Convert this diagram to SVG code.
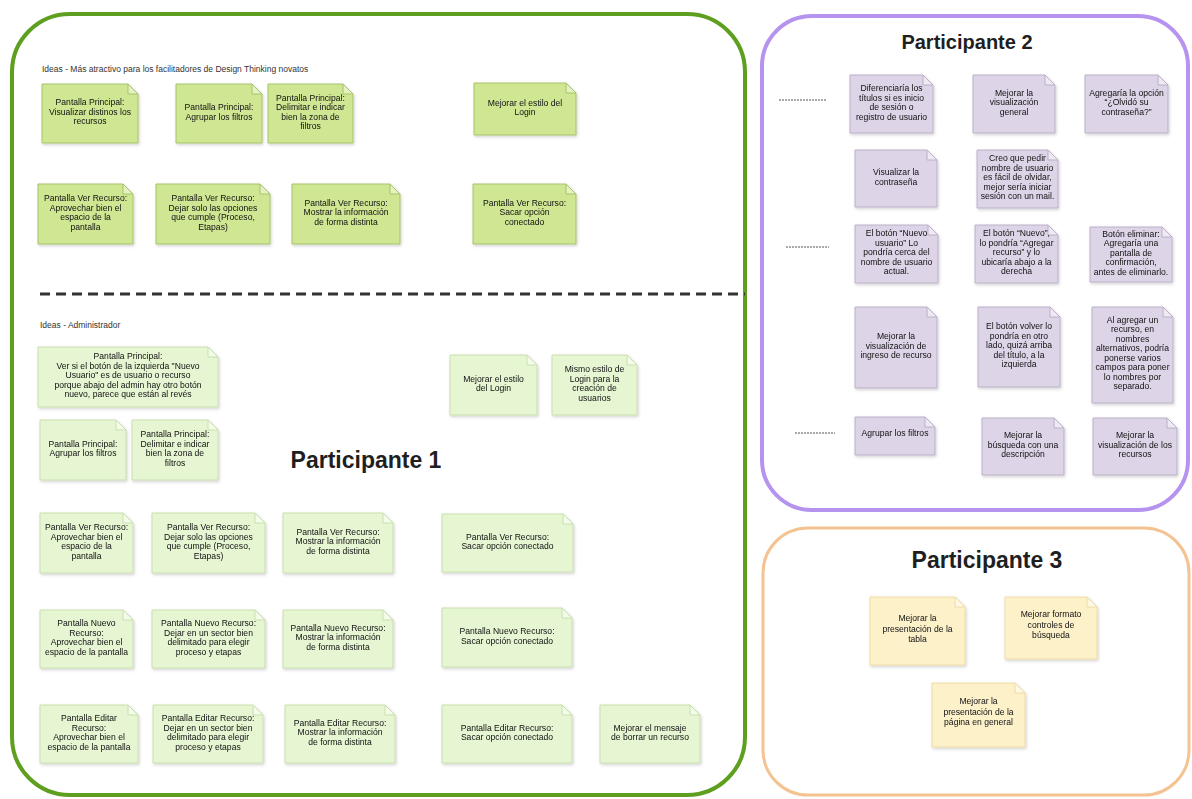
<svg xmlns="http://www.w3.org/2000/svg" width="1192" height="799" viewBox="0 0 1192 799">
  <style>
    .frame { fill: none; }
    .p1 { stroke: #5e9f1f; stroke-width: 4; }
    .p2 { stroke: #b693ee; stroke-width: 4; }
    .p3 { stroke: #f4c391; stroke-width: 3; }
    .title { font-family: "Liberation Sans", Arial, sans-serif; font-size: 23px; font-weight: bold; fill: #1f1f1f; text-anchor: middle; }
    .title.small { font-size: 20px; }
    .hdr { font-family: "Liberation Sans", Arial, sans-serif; font-size: 8.5px; fill: #333; }
    .t { font-family: "Liberation Sans", Arial, sans-serif; font-size: 8.6px; fill: #111; text-anchor: middle; }
    .g1 .body { fill: #cfe693; stroke: #a7c46a; stroke-width: 1; }
    .g1 .fold { fill: #e4f1c2; stroke: #a7c46a; stroke-width: 1; }
    .g2 .body { fill: #e6f6d2; stroke: #c9dfae; stroke-width: 1; }
    .g2 .fold { fill: #f3fbe9; stroke: #c9dfae; stroke-width: 1; }
    .pu .body { fill: #ddd4e7; stroke: #bbb0c9; stroke-width: 1; }
    .pu .fold { fill: #eee9f3; stroke: #bbb0c9; stroke-width: 1; }
    .ye .body { fill: #fdf1ca; stroke: #eedca6; stroke-width: 1; }
    .ye .fold { fill: #fff8e4; stroke: #eedca6; stroke-width: 1; }
    .note { filter: url(#shadow); }
    .sep { stroke: #333; stroke-width: 3; stroke-dasharray: 10 6; fill: none; }
    .mark { stroke: #555; stroke-width: 1; stroke-dasharray: 2 1; fill: none; }
  </style>
  <defs>
    <filter id="shadow" x="-10%" y="-10%" width="130%" height="130%">
      <feDropShadow dx="1" dy="1.5" stdDeviation="1.5" flood-color="#000" flood-opacity="0.18"/>
    </filter>
  </defs>

  <rect width="1192" height="799" fill="#ffffff"/>

  <!-- participant frames -->
  <g id="frame-participante-1">
    <rect class="frame p1" x="12" y="14" width="733" height="781" rx="58" ry="58"/>
    <text class="title" x="366" y="468">Participante 1</text>
  </g>
  <g id="frame-participante-2">
    <rect class="frame p2" x="762" y="16" width="426" height="494" rx="50" ry="50"/>
    <text class="title small" x="967" y="49">Participante 2</text>
  </g>
  <g id="frame-participante-3">
    <rect class="frame p3" x="763" y="528" width="426" height="267" rx="45" ry="45"/>
    <text class="title" x="987" y="568">Participante 3</text>
  </g>

  <!-- section headers and divider -->
  <text id="hdr-novatos" class="hdr" x="42" y="72">Ideas - Más atractivo para los facilitadores de Design Thinking novatos</text>
  <line id="divider" class="sep" x1="40" y1="294" x2="745" y2="294"/>
  <text id="hdr-admin" class="hdr" x="40" y="328">Ideas - Administrador</text>

  <!-- connectors: short row markers in Participante 2 -->
  <g id="connectors">
    <line class="mark" x1="779" y1="100" x2="826" y2="100"/>
    <line class="mark" x1="786" y1="247" x2="829" y2="247"/>
    <line class="mark" x1="795" y1="433" x2="835" y2="433"/>
  </g>

  <!-- ===== Participante 1: ideas for novice facilitators ===== -->
  <g id="n1" class="note g1">
    <path class="body" d="M42 84h86l10 10v49h-96z"/><path class="fold" d="M128 84v10h10z"/>
    <text class="t" x="90" y="105"><tspan x="90">Pantalla Principal:</tspan><tspan x="90" dy="9.5">Visualizar distinos los</tspan><tspan x="90" dy="9.5">recursos</tspan></text>
  </g>
  <g id="n2" class="note g1">
    <path class="body" d="M176 84h76l10 10v49h-86z"/><path class="fold" d="M252 84v10h10z"/>
    <text class="t" x="219" y="110"><tspan x="219">Pantalla Principal:</tspan><tspan x="219" dy="9.5">Agrupar los filtros</tspan></text>
  </g>
  <g id="n3" class="note g1">
    <path class="body" d="M268 84h75l10 10v49h-85z"/><path class="fold" d="M343 84v10h10z"/>
    <text class="t" x="310.5" y="100.5"><tspan x="310.5">Pantalla Principal:</tspan><tspan x="310.5" dy="9.5">Delimitar e indicar</tspan><tspan x="310.5" dy="9.5">bien la zona de</tspan><tspan x="310.5" dy="9.5">filtros</tspan></text>
  </g>
  <g id="n4" class="note g1">
    <path class="body" d="M474 83h92l10 10v42h-102z"/><path class="fold" d="M566 83v10h10z"/>
    <text class="t" x="525" y="105.5"><tspan x="525">Mejorar el estilo del</tspan><tspan x="525" dy="9.5">Login</tspan></text>
  </g>
  <g id="n5" class="note g1">
    <path class="body" d="M38 184h85l10 10v50h-95z"/><path class="fold" d="M123 184v10h10z"/>
    <text class="t" x="85.5" y="201"><tspan x="85.5">Pantalla Ver Recurso:</tspan><tspan x="85.5" dy="9.5">Aprovechar bien el</tspan><tspan x="85.5" dy="9.5">espacio de la</tspan><tspan x="85.5" dy="9.5">pantalla</tspan></text>
  </g>
  <g id="n6" class="note g1">
    <path class="body" d="M156 184h104l10 10v50h-114z"/><path class="fold" d="M260 184v10h10z"/>
    <text class="t" x="213" y="201"><tspan x="213">Pantalla Ver Recurso:</tspan><tspan x="213" dy="9.5">Dejar solo las opciones</tspan><tspan x="213" dy="9.5">que cumple (Proceso,</tspan><tspan x="213" dy="9.5">Etapas)</tspan></text>
  </g>
  <g id="n7" class="note g1">
    <path class="body" d="M292 184h98l10 10v50h-108z"/><path class="fold" d="M390 184v10h10z"/>
    <text class="t" x="346" y="205.5"><tspan x="346">Pantalla Ver Recurso:</tspan><tspan x="346" dy="9.5">Mostrar la información</tspan><tspan x="346" dy="9.5">de forma distinta</tspan></text>
  </g>
  <g id="n8" class="note g1">
    <path class="body" d="M473 184h93l10 10v50h-103z"/><path class="fold" d="M566 184v10h10z"/>
    <text class="t" x="524.5" y="205.5"><tspan x="524.5">Pantalla Ver Recurso:</tspan><tspan x="524.5" dy="9.5">Sacar opción</tspan><tspan x="524.5" dy="9.5">conectado</tspan></text>
  </g>

  <!-- ===== Participante 1: administrator ideas ===== -->
  <g id="n9" class="note g2">
    <path class="body" d="M38 347h170l10 10v50h-180z"/><path class="fold" d="M208 347v10h10z"/>
    <text class="t" x="128" y="359"><tspan x="128">Pantalla Principal:</tspan><tspan x="128" dy="9.5">Ver si el botón de la izquierda "Nuevo</tspan><tspan x="128" dy="9.5">Usuario" es de usuario o recurso</tspan><tspan x="128" dy="9.5">porque abajo del admin hay otro botón</tspan><tspan x="128" dy="9.5">nuevo, parece que están al revés</tspan></text>
  </g>
  <g id="n10" class="note g2">
    <path class="body" d="M40 420h76l10 10v50h-86z"/><path class="fold" d="M116 420v10h10z"/>
    <text class="t" x="83" y="446.5"><tspan x="83">Pantalla Principal:</tspan><tspan x="83" dy="9.5">Agrupar los filtros</tspan></text>
  </g>
  <g id="n11" class="note g2">
    <path class="body" d="M132 420h76l10 10v50h-86z"/><path class="fold" d="M208 420v10h10z"/>
    <text class="t" x="175" y="437"><tspan x="175">Pantalla Principal:</tspan><tspan x="175" dy="9.5">Delimitar e indicar</tspan><tspan x="175" dy="9.5">bien la zona de</tspan><tspan x="175" dy="9.5">filtros</tspan></text>
  </g>
  <g id="n12" class="note g2">
    <path class="body" d="M450 355h77l10 10v50h-87z"/><path class="fold" d="M527 355v10h10z"/>
    <text class="t" x="493.5" y="381.5"><tspan x="493.5">Mejorar el estilo</tspan><tspan x="493.5" dy="9.5">del Login</tspan></text>
  </g>
  <g id="n13" class="note g2">
    <path class="body" d="M552 355h75l10 10v50h-85z"/><path class="fold" d="M627 355v10h10z"/>
    <text class="t" x="594.5" y="372"><tspan x="594.5">Mismo estilo de</tspan><tspan x="594.5" dy="9.5">Login para la</tspan><tspan x="594.5" dy="9.5">creación de</tspan><tspan x="594.5" dy="9.5">usuarios</tspan></text>
  </g>
  <g id="n14" class="note g2">
    <path class="body" d="M40 513h83l10 10v50h-93z"/><path class="fold" d="M123 513v10h10z"/>
    <text class="t" x="86.5" y="530"><tspan x="86.5">Pantalla Ver Recurso:</tspan><tspan x="86.5" dy="9.5">Aprovechar bien el</tspan><tspan x="86.5" dy="9.5">espacio de la</tspan><tspan x="86.5" dy="9.5">pantalla</tspan></text>
  </g>
  <g id="n15" class="note g2">
    <path class="body" d="M152 513h103l10 10v50h-113z"/><path class="fold" d="M255 513v10h10z"/>
    <text class="t" x="208.5" y="530"><tspan x="208.5">Pantalla Ver Recurso:</tspan><tspan x="208.5" dy="9.5">Dejar solo las opciones</tspan><tspan x="208.5" dy="9.5">que cumple (Proceso,</tspan><tspan x="208.5" dy="9.5">Etapas)</tspan></text>
  </g>
  <g id="n16" class="note g2">
    <path class="body" d="M283 513h100l10 10v50h-110z"/><path class="fold" d="M383 513v10h10z"/>
    <text class="t" x="338" y="534.5"><tspan x="338">Pantalla Ver Recurso:</tspan><tspan x="338" dy="9.5">Mostrar la información</tspan><tspan x="338" dy="9.5">de forma distinta</tspan></text>
  </g>
  <g id="n17" class="note g2">
    <path class="body" d="M40 610h83l10 10v48h-93z"/><path class="fold" d="M123 610v10h10z"/>
    <text class="t" x="86.5" y="626"><tspan x="86.5">Pantalla Nuevo</tspan><tspan x="86.5" dy="9.5">Recurso:</tspan><tspan x="86.5" dy="9.5">Aprovechar bien el</tspan><tspan x="86.5" dy="9.5">espacio de la pantalla</tspan></text>
  </g>
  <g id="n18" class="note g2">
    <path class="body" d="M152 610h103l10 10v48h-113z"/><path class="fold" d="M255 610v10h10z"/>
    <text class="t" x="208.5" y="626"><tspan x="208.5">Pantalla Nuevo Recurso:</tspan><tspan x="208.5" dy="9.5">Dejar en un sector bien</tspan><tspan x="208.5" dy="9.5">delimitado para elegir</tspan><tspan x="208.5" dy="9.5">proceso y etapas</tspan></text>
  </g>
  <g id="n19" class="note g2">
    <path class="body" d="M283 610h100l10 10v48h-110z"/><path class="fold" d="M383 610v10h10z"/>
    <text class="t" x="338" y="630.5"><tspan x="338">Pantalla Nuevo Recurso:</tspan><tspan x="338" dy="9.5">Mostrar la información</tspan><tspan x="338" dy="9.5">de forma distinta</tspan></text>
  </g>
  <g id="n20" class="note g2">
    <path class="body" d="M442 514h121l10 10v48h-131z"/><path class="fold" d="M563 514v10h10z"/>
    <text class="t" x="507.5" y="539.5"><tspan x="507.5">Pantalla Ver Recurso:</tspan><tspan x="507.5" dy="9.5">Sacar opción conectado</tspan></text>
  </g>
  <g id="n21" class="note g2">
    <path class="body" d="M442 608h120l10 10v49h-130z"/><path class="fold" d="M562 608v10h10z"/>
    <text class="t" x="507" y="634"><tspan x="507">Pantalla Nuevo Recurso:</tspan><tspan x="507" dy="9.5">Sacar opción conectado</tspan></text>
  </g>
  <g id="n22" class="note g2">
    <path class="body" d="M40 705h88l10 10v48h-98z"/><path class="fold" d="M128 705v10h10z"/>
    <text class="t" x="89" y="721"><tspan x="89">Pantalla Editar</tspan><tspan x="89" dy="9.5">Recurso:</tspan><tspan x="89" dy="9.5">Aprovechar bien el</tspan><tspan x="89" dy="9.5">espacio de la pantalla</tspan></text>
  </g>
  <g id="n23" class="note g2">
    <path class="body" d="M153 705h100l10 10v48h-110z"/><path class="fold" d="M253 705v10h10z"/>
    <text class="t" x="208" y="721"><tspan x="208">Pantalla Editar Recurso:</tspan><tspan x="208" dy="9.5">Dejar en un sector bien</tspan><tspan x="208" dy="9.5">delimitado para elegir</tspan><tspan x="208" dy="9.5">proceso y etapas</tspan></text>
  </g>
  <g id="n24" class="note g2">
    <path class="body" d="M285 705h100l10 10v48h-110z"/><path class="fold" d="M385 705v10h10z"/>
    <text class="t" x="340" y="725.5"><tspan x="340">Pantalla Editar Recurso:</tspan><tspan x="340" dy="9.5">Mostrar la información</tspan><tspan x="340" dy="9.5">de forma distinta</tspan></text>
  </g>
  <g id="n25" class="note g2">
    <path class="body" d="M442 705h120l10 10v48h-130z"/><path class="fold" d="M562 705v10h10z"/>
    <text class="t" x="507" y="730.5"><tspan x="507">Pantalla Editar Recurso:</tspan><tspan x="507" dy="9.5">Sacar opción conectado</tspan></text>
  </g>
  <g id="n26" class="note g2">
    <path class="body" d="M600 705h90l10 10v48h-100z"/><path class="fold" d="M690 705v10h10z"/>
    <text class="t" x="650" y="730.5"><tspan x="650">Mejorar el mensaje</tspan><tspan x="650" dy="9.5">de borrar un recurso</tspan></text>
  </g>

  <!-- ===== Participante 2 ===== -->
  <g id="p1" class="note pu">
    <path class="body" d="M850 75h73l10 10v48h-83z"/><path class="fold" d="M923 75v10h10z"/>
    <text class="t" x="891.5" y="91"><tspan x="891.5">Diferenciaría los</tspan><tspan x="891.5" dy="9.5">títulos si es inicio</tspan><tspan x="891.5" dy="9.5">de sesión o</tspan><tspan x="891.5" dy="9.5">registro de usuario</tspan></text>
  </g>
  <g id="p2" class="note pu">
    <path class="body" d="M973 75h72l10 10v48h-82z"/><path class="fold" d="M1045 75v10h10z"/>
    <text class="t" x="1014" y="95.5"><tspan x="1014">Mejorar la</tspan><tspan x="1014" dy="9.5">visualización</tspan><tspan x="1014" dy="9.5">general</tspan></text>
  </g>
  <g id="p3" class="note pu">
    <path class="body" d="M1085 75h73l10 10v48h-83z"/><path class="fold" d="M1158 75v10h10z"/>
    <text class="t" x="1126.5" y="95.5"><tspan x="1126.5">Agregaría la opción</tspan><tspan x="1126.5" dy="9.5">“¿Olvidó su</tspan><tspan x="1126.5" dy="9.5">contraseña?”</tspan></text>
  </g>
  <g id="p4" class="note pu">
    <path class="body" d="M855 150h72l10 10v47h-82z"/><path class="fold" d="M927 150v10h10z"/>
    <text class="t" x="896" y="175"><tspan x="896">Visualizar la</tspan><tspan x="896" dy="9.5">contraseña</tspan></text>
  </g>
  <g id="p5" class="note pu">
    <path class="body" d="M977 150h71l10 10v48h-81z"/><path class="fold" d="M1048 150v10h10z"/>
    <text class="t" x="1017.5" y="161"><tspan x="1017.5">Creo que pedir</tspan><tspan x="1017.5" dy="9.5">nombre de usuario</tspan><tspan x="1017.5" dy="9.5">es fácil de olvidar,</tspan><tspan x="1017.5" dy="9.5">mejor sería iniciar</tspan><tspan x="1017.5" dy="9.5">sesión con un mail.</tspan></text>
  </g>
  <g id="p6" class="note pu">
    <path class="body" d="M855 225h73l10 10v48h-83z"/><path class="fold" d="M928 225v10h10z"/>
    <text class="t" x="896.5" y="236"><tspan x="896.5">El botón “Nuevo</tspan><tspan x="896.5" dy="9.5">usuario” Lo</tspan><tspan x="896.5" dy="9.5">pondría cerca del</tspan><tspan x="896.5" dy="9.5">nombre de usuario</tspan><tspan x="896.5" dy="9.5">actual.</tspan></text>
  </g>
  <g id="p7" class="note pu">
    <path class="body" d="M975 225h73l10 10v48h-83z"/><path class="fold" d="M1048 225v10h10z"/>
    <text class="t" x="1016.5" y="236"><tspan x="1016.5">El botón “Nuevo”,</tspan><tspan x="1016.5" dy="9.5">lo pondría “Agregar</tspan><tspan x="1016.5" dy="9.5">recurso” y lo</tspan><tspan x="1016.5" dy="9.5">ubicaría abajo a la</tspan><tspan x="1016.5" dy="9.5">derecha</tspan></text>
  </g>
  <g id="p8" class="note pu">
    <path class="body" d="M1090 227h72l10 10v45h-82z"/><path class="fold" d="M1162 227v10h10z"/>
    <text class="t" x="1131" y="236.5"><tspan x="1131">Botón eliminar:</tspan><tspan x="1131" dy="9.5">Agregaría una</tspan><tspan x="1131" dy="9.5">pantalla de</tspan><tspan x="1131" dy="9.5">confirmación,</tspan><tspan x="1131" dy="9.5">antes de eliminarlo.</tspan></text>
  </g>
  <g id="p9" class="note pu">
    <path class="body" d="M855 307h72l10 10v71h-82z"/><path class="fold" d="M927 307v10h10z"/>
    <text class="t" x="896" y="339"><tspan x="896">Mejorar la</tspan><tspan x="896" dy="9.5">visualización de</tspan><tspan x="896" dy="9.5">ingreso de recurso</tspan></text>
  </g>
  <g id="p10" class="note pu">
    <path class="body" d="M978 307h72l10 10v70h-82z"/><path class="fold" d="M1050 307v10h10z"/>
    <text class="t" x="1019" y="329"><tspan x="1019">El botón volver lo</tspan><tspan x="1019" dy="9.5">pondría en otro</tspan><tspan x="1019" dy="9.5">lado, quizá arriba</tspan><tspan x="1019" dy="9.5">del título, a la</tspan><tspan x="1019" dy="9.5">izquierda</tspan></text>
  </g>
  <g id="p11" class="note pu">
    <path class="body" d="M1092 307h71l10 10v86h-81z"/><path class="fold" d="M1163 307v10h10z"/>
    <text class="t" x="1132.5" y="322.5"><tspan x="1132.5">Al agregar un</tspan><tspan x="1132.5" dy="9.5">recurso, en</tspan><tspan x="1132.5" dy="9.5">nombres</tspan><tspan x="1132.5" dy="9.5">alternativos, podría</tspan><tspan x="1132.5" dy="9.5">ponerse varios</tspan><tspan x="1132.5" dy="9.5">campos para poner</tspan><tspan x="1132.5" dy="9.5">lo nombres por</tspan><tspan x="1132.5" dy="9.5">separado.</tspan></text>
  </g>
  <g id="p12" class="note pu">
    <path class="body" d="M855 417h70l10 10v28h-80z"/><path class="fold" d="M925 417v10h10z"/>
    <text class="t" x="895" y="436"><tspan x="895">Agrupar los filtros</tspan></text>
  </g>
  <g id="p13" class="note pu">
    <path class="body" d="M982 418h72l10 10v47h-82z"/><path class="fold" d="M1054 418v10h10z"/>
    <text class="t" x="1023" y="438"><tspan x="1023">Mejorar la</tspan><tspan x="1023" dy="9.5">búsqueda con una</tspan><tspan x="1023" dy="9.5">descripción</tspan></text>
  </g>
  <g id="p14" class="note pu">
    <path class="body" d="M1093 418h74l10 10v47h-84z"/><path class="fold" d="M1167 418v10h10z"/>
    <text class="t" x="1135" y="438"><tspan x="1135">Mejorar la</tspan><tspan x="1135" dy="9.5">visualización de los</tspan><tspan x="1135" dy="9.5">recursos</tspan></text>
  </g>

  <!-- ===== Participante 3 ===== -->
  <g id="q1" class="note ye">
    <path class="body" d="M870 597h85l10 10v58h-95z"/><path class="fold" d="M955 597v10h10z"/>
    <text class="t" x="917.5" y="621"><tspan x="917.5">Mejorar la</tspan><tspan x="917.5" dy="10.5">presentación de la</tspan><tspan x="917.5" dy="10.5">tabla</tspan></text>
  </g>
  <g id="q2" class="note ye">
    <path class="body" d="M1005 597h82l10 10v52h-92z"/><path class="fold" d="M1087 597v10h10z"/>
    <text class="t" x="1051" y="617"><tspan x="1051">Mejorar formato</tspan><tspan x="1051" dy="10.5">controles de</tspan><tspan x="1051" dy="10.5">búsqueda</tspan></text>
  </g>
  <g id="q3" class="note ye">
    <path class="body" d="M932 683h83l10 10v54h-93z"/><path class="fold" d="M1015 683v10h10z"/>
    <text class="t" x="978.5" y="704"><tspan x="978.5">Mejorar la</tspan><tspan x="978.5" dy="10.5">presentación de la</tspan><tspan x="978.5" dy="10.5">página en general</tspan></text>
  </g>
</svg>
